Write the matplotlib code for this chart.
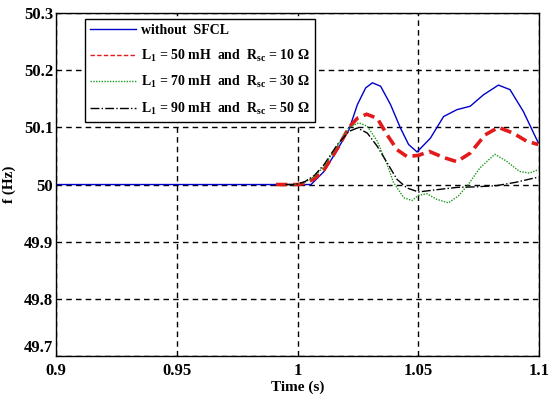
import matplotlib
matplotlib.use("Agg")
import matplotlib.pyplot as plt
from matplotlib.ticker import FuncFormatter

plt.rcParams['font.family'] = ['Liberation Serif', 'DejaVu Serif']
plt.rcParams['font.weight'] = 'bold'
plt.rcParams['mathtext.fontset'] = 'custom'
plt.rcParams['mathtext.rm'] = 'Liberation Serif:bold'
plt.rcParams['mathtext.bf'] = 'Liberation Serif:bold'
plt.rcParams['mathtext.it'] = 'Liberation Serif:bold'

# values
t_blue = [0.9, 1.0, 1.0056, 1.011, 1.0165, 1.0213, 1.0248, 1.0282, 1.031, 1.0344,
          1.0385, 1.0426, 1.046, 1.0495, 1.055, 1.0605, 1.066, 1.0715, 1.077,
          1.0832, 1.088, 1.0935, 1.0997]
f_blue = [50.0, 50.0, 50.0, 50.023, 50.061, 50.096, 50.14, 50.169, 50.178, 50.172,
          50.14, 50.099, 50.07, 50.057, 50.081, 50.119, 50.131, 50.137, 50.157,
          50.174, 50.166, 50.128, 50.073]

t_red = [0.991, 1.0, 1.003, 1.007, 1.011, 1.0165, 1.0213, 1.0248, 1.0286, 1.033,
         1.0371, 1.0412, 1.0453, 1.0501, 1.0545, 1.0607, 1.066, 1.0715, 1.0777,
         1.0832, 1.0893, 1.0948, 1.0997]
f_red = [50.0, 50.0, 50.002, 50.01, 50.026, 50.063, 50.1, 50.116, 50.123, 50.116,
         50.087, 50.061, 50.049, 50.051, 50.058, 50.047, 50.04, 50.055, 50.087,
         50.1, 50.09, 50.076, 50.07]

t_green = [0.995, 0.999, 1.003, 1.007, 1.011, 1.0165, 1.0213, 1.0254, 1.0289, 1.033,
           1.0371, 1.0398, 1.044, 1.0474, 1.0501, 1.0536, 1.0577, 1.0625, 1.0666,
           1.0707, 1.0755, 1.0817, 1.0865, 1.0919, 1.096, 1.0997]
f_green = [50.0, 50.0, 50.004, 50.014, 50.032, 50.068, 50.1, 50.108, 50.102, 50.076,
           50.035, 50.003, 49.977, 49.972, 49.981, 49.984, 49.974, 49.968, 49.98,
           50.0, 50.029, 50.053, 50.041, 50.023, 50.02, 50.026]

t_black = [0.995, 0.999, 1.003, 1.007, 1.011, 1.0165, 1.0213, 1.0248, 1.0289, 1.033,
           1.0371, 1.0412, 1.0453, 1.0501, 1.0577, 1.066, 1.074, 1.0823, 1.0905,
           1.0997]
f_black = [50.0, 50.0, 50.005, 50.016, 50.035, 50.07, 50.093, 50.099, 50.09, 50.067,
           50.038, 50.009, 49.994, 49.987, 49.991, 49.995, 49.996, 49.998, 50.004,
           50.013]

labels = ['without  SFCL',
          r'L$_1$ = 50 mH  and  R$_{sc}$ = 10 $\Omega$',
          r'L$_1$ = 70 mH  and  R$_{sc}$ = 30 $\Omega$',
          r'L$_1$ = 90 mH  and  R$_{sc}$ = 50 $\Omega$']

fig = plt.figure(figsize=(5.5, 3.96), dpi=100)
ax = fig.add_axes([0.102, 0.101, 0.878, 0.866])

ax.plot(t_blue, f_blue, color='#0000cc', lw=1.0, label=labels[0])
ax.plot(t_red, f_red, color='#e31a1c', lw=2.6, ls=(0, (3.2, 1.6)), label=labels[1])
ax.plot(t_green, f_green, color='#1a9a1a', lw=1.0, ls=(0, (1, 1)), label=labels[2])
ax.plot(t_black, f_black, color='black', lw=1.0, ls='-.', label=labels[3])

ax.set_xlim(0.9, 1.1)
ax.set_ylim(49.7, 50.3)
ax.set_xticks([0.9, 0.95, 1.0, 1.05, 1.1])
ax.set_yticks([49.7, 49.8, 49.9, 50.0, 50.1, 50.2, 50.3])
fmt = FuncFormatter(lambda v, p: ('%.2f' % v).rstrip('0').rstrip('.'))
ax.xaxis.set_major_formatter(fmt)
ax.yaxis.set_major_formatter(fmt)
ax.tick_params(length=0, labelsize=12)
ax.tick_params(axis='y', pad=2)
ax.tick_params(axis='x', pad=5)
for lab in ax.get_xticklabels() + ax.get_yticklabels():
    lab.set_fontweight('bold')
# lowest y label sits above the axis corner, as in the reference
ax.get_yticklabels()[0].set_verticalalignment('bottom')
ax.grid(True, color='black', ls=(0, (4, 3)), lw=1.0)
for s in ax.spines.values():
    s.set_linewidth(1.0)

ax.set_xlabel('Time (s)', fontsize=11, fontweight='bold', labelpad=1)
ax.set_ylabel('f (Hz)', fontsize=11, fontweight='bold', labelpad=6)

leg = ax.legend(loc='upper left', bbox_to_anchor=(0.06, 0.982), fontsize=10,
                frameon=True, fancybox=False, edgecolor='black', framealpha=1,
                handlelength=3.3, handletextpad=0.4, borderpad=0.35,
                labelspacing=0.75, borderaxespad=0)
leg.get_frame().set_linewidth(1.0)
for line in leg.get_lines():
    line.set_linewidth(1.0)

fig.savefig('out.png', dpi=100)
